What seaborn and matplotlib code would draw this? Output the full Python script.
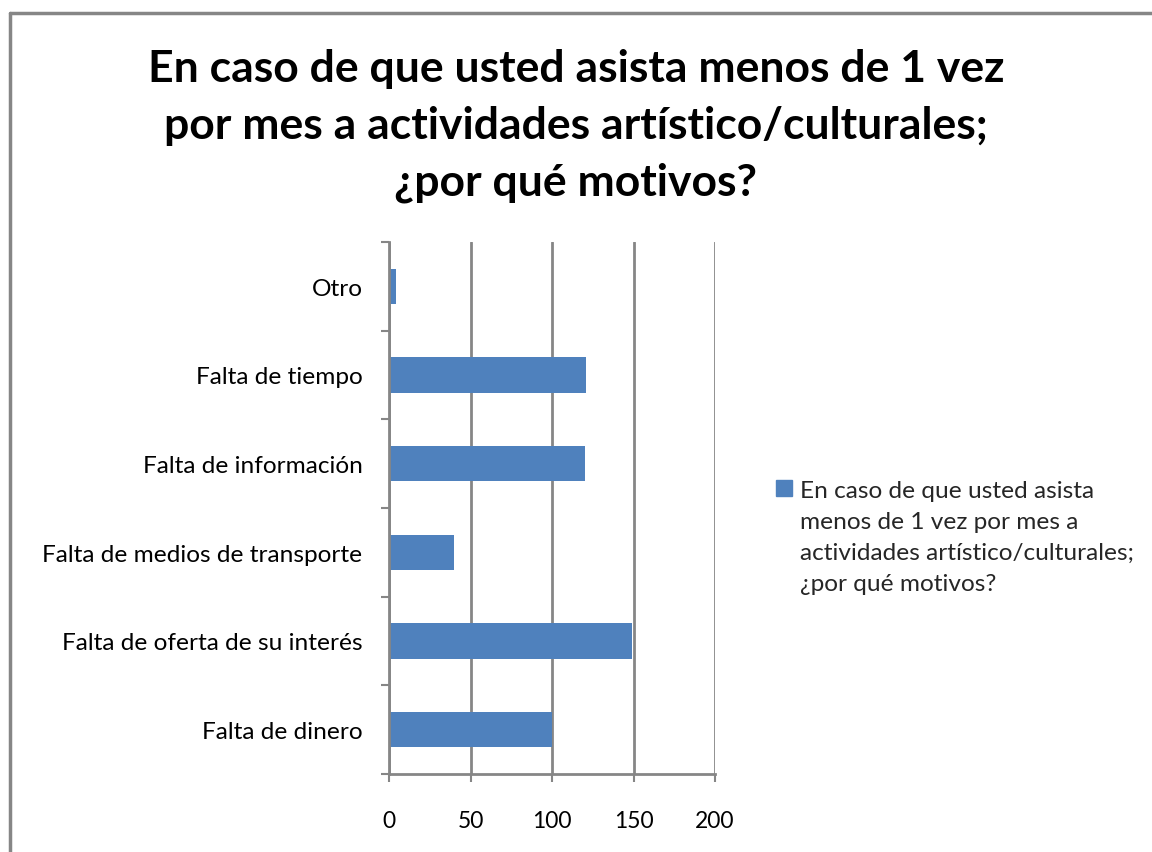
import matplotlib
matplotlib.use("Agg")
import matplotlib.pyplot as plt
import seaborn as sns
import pandas as pd
from matplotlib.lines import Line2D
from matplotlib.ticker import FixedLocator

categories = ["Otro", "Falta de tiempo", "Falta de información",
              "Falta de medios de transporte", "Falta de oferta de su interés",
              "Falta de dinero"]
values = [4, 121, 120, 40, 149, 100]
series_name = "En caso de que usted asista menos de 1 vez por mes a actividades artístico/culturales; ¿por qué motivos?"
legend_lines = ["En caso de que usted asista", "menos de 1 vez por mes a",
                "actividades artístico/culturales;", "¿por qué motivos?"]
title = "En caso de que usted asista menos de 1 vez\npor mes a actividades artístico/culturales;\n¿por qué motivos?"
x_ticks = [0, 50, 100, 150, 200]

sns.set_style("white")
plt.rcParams['font.family'] = ['Lato', 'DejaVu Sans']

df = pd.DataFrame({"cat": categories, "val": values, "serie": [series_name] * len(categories)})

fig = plt.figure(figsize=(11.52, 8.53), dpi=100)
ax = fig.add_axes([389/1152, 1 - 775/853, (715 - 389)/1152, (775 - 243)/853])

bar_color = "#4F81BD"
grid_color = "#868686"
sns.barplot(data=df, y="cat", x="val", hue="serie", orient="h", order=categories,
            palette=[bar_color], width=0.4, ax=ax, legend=False, saturation=1, zorder=3,
            linewidth=0)

ax.set_xlim(0, 200)
ax.set_ylim(len(categories) - 0.5, -0.5)
ax.set_xticks(x_ticks)
ax.set_xticklabels([str(t) for t in x_ticks], fontsize=16.5, color="#000000")
ax.set_yticks(range(len(categories)))
ax.set_yticklabels(categories, fontsize=17.6, color="#000000")
ax.set_xlabel("")
ax.set_ylabel("")

ax.grid(axis="x", color=grid_color, linewidth=2, zorder=0)
ax.grid(axis="y", visible=False)
for s in ["top", "right"]:
    ax.spines[s].set_visible(False)
for s in ["left", "bottom"]:
    ax.spines[s].set_color(grid_color)
    ax.spines[s].set_linewidth(2)
    ax.spines[s].set_zorder(4)

ax.tick_params(axis="y", which="major", left=True, length=0, pad=19)
ax.yaxis.set_minor_locator(FixedLocator([i - 0.5 for i in range(len(categories) + 1)]))
ax.tick_params(axis="y", which="minor", left=True, length=6, width=1.5, color=grid_color, direction="out")
ax.tick_params(axis="x", which="major", bottom=True, length=6, width=1.5, color=grid_color,
               direction="out", pad=20)

fig.text(0.5, 1 - 126/853, title, ha="center", va="center", fontsize=32, fontweight="bold",
         linespacing=1.52, color="#000000")

handles = [Line2D([0], [0], marker="s", color="none", markerfacecolor=bar_color,
                  markeredgecolor=bar_color, markersize=11)]
handles += [Line2D([0], [0], color="none") for _ in legend_lines[1:]]
fig.legend(handles, legend_lines, loc="upper left",
           bbox_to_anchor=(766/1152, 1 - 471/853), frameon=False, fontsize=17.6,
           handlelength=0.7, handletextpad=0.3, borderaxespad=0, labelspacing=0.41)

# outer chart frame (left and top edges visible)
fig.add_artist(Line2D([9.5/1152, 9.5/1152], [0, 1 - 14/853], transform=fig.transFigure,
                      color=grid_color, linewidth=2.5))
fig.add_artist(Line2D([9.5/1152, 1], [1 - 14/853, 1 - 14/853], transform=fig.transFigure,
                      color=grid_color, linewidth=2.5))

fig.savefig("out.png", dpi=100, facecolor="white")
